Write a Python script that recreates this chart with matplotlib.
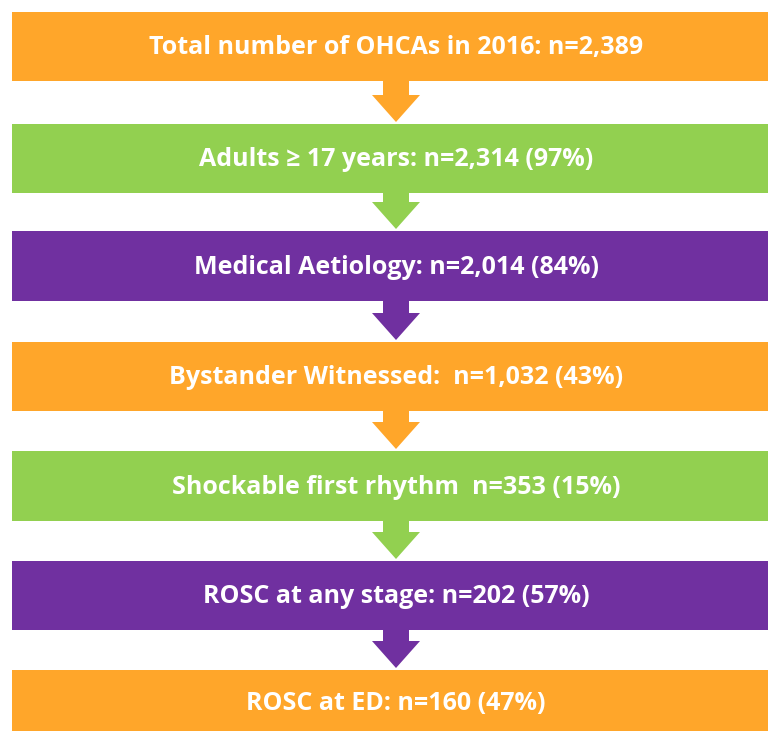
import matplotlib
matplotlib.use("Agg")
import matplotlib.pyplot as plt
from matplotlib.patches import Rectangle, Polygon

labels = [
    "Total number of OHCAs in 2016: n=2,389",
    "Adults \u2265 17 years: n=2,314 (97%)",
    "Medical Aetiology: n=2,014 (84%)",
    "Bystander Witnessed:  n=1,032 (43%)",
    "Shockable first rhythm  n=353 (15%)",
    "ROSC at any stage: n=202 (57%)",
    "ROSC at ED: n=160 (47%)",
]
ORANGE, GREEN, PURPLE = "#FFA62A", "#92D050", "#7030A0"
colors = [ORANGE, GREEN, PURPLE, ORANGE, GREEN, PURPLE, ORANGE]

W, H = 768, 731
fig = plt.figure(figsize=(W / 100, H / 100), dpi=100)
ax = fig.add_axes([0, 0, 1, 1])
ax.set_xlim(0, W)
ax.set_ylim(H, 0)
ax.axis("off")

tops = [12, 124, 231, 342, 451, 561, 670]
bottoms = [81, 193, 301, 411, 521, 630, 745]
x0, x1 = 12, 782
cx = 396

for i, (lab, col) in enumerate(zip(labels, colors)):
    t, b = tops[i], bottoms[i]
    ax.add_patch(Rectangle((x0, t), x1 - x0, b - t, facecolor=col, edgecolor="none"))
    yc = (t + b) / 2 if i < len(labels) - 1 else 703
    ax.text(cx, yc + 1, lab, ha="center", va="center", color="white",
            fontsize=18, fontweight="bold", family=["Open Sans", "DejaVu Sans"])
    if i < len(labels) - 1:
        nt = tops[i + 1]
        tip = nt - 2
        hs = tip - 27
        sw, hw = 13, 24
        pts = [(cx - sw, b), (cx + sw, b), (cx + sw, hs), (cx + hw, hs),
               (cx, tip), (cx - hw, hs), (cx - sw, hs)]
        ax.add_patch(Polygon(pts, closed=True, facecolor=col, edgecolor="none"))

fig.savefig("out.png", dpi=100)
